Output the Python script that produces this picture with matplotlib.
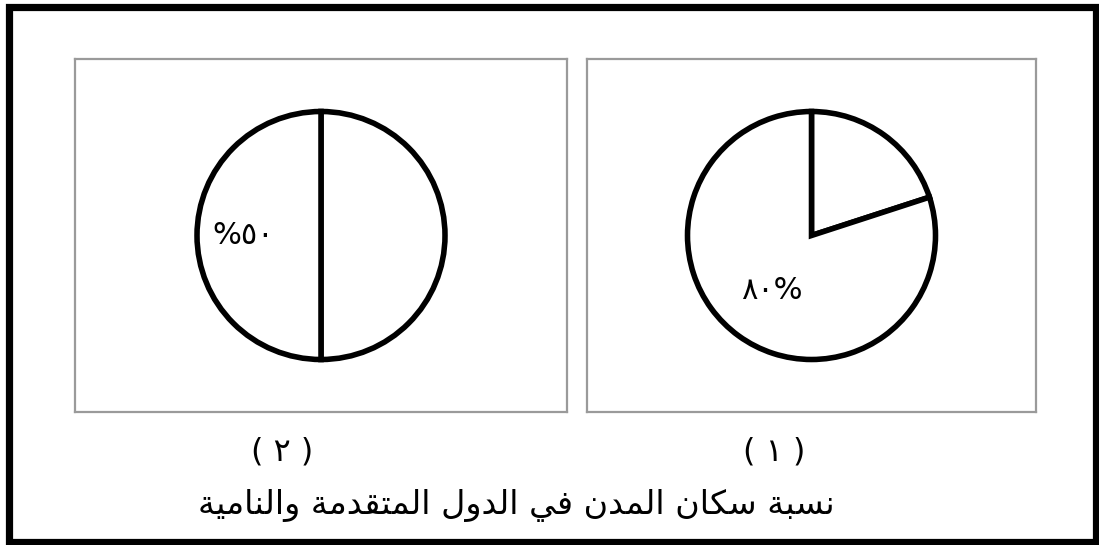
import matplotlib
matplotlib.use("Agg")
import matplotlib.pyplot as plt
from matplotlib.patches import Rectangle

plt.rcParams['font.family'] = ['DejaVu Sans']

# chart data
left_values = [50, 50]
left_labels = ['', '%٥٠']
right_values = [20, 80]
right_labels = ['', '٨٠%']
panel_titles = ['( ٢ )', '( ١ )']
title = 'نسبة سكان المدن في الدول المتقدمة والنامية'

# Arabic presentation forms: (isolated, final, initial, medial)
FORMS = {
    'ا': ('\uFE8D', '\uFE8E', None, None),
    'ب': ('\uFE8F', '\uFE90', '\uFE91', '\uFE92'),
    'ة': ('\uFE93', '\uFE94', None, None),
    'ت': ('\uFE95', '\uFE96', '\uFE97', '\uFE98'),
    'د': ('\uFEA9', '\uFEAA', None, None),
    'س': ('\uFEB1', '\uFEB2', '\uFEB3', '\uFEB4'),
    'ف': ('\uFED1', '\uFED2', '\uFED3', '\uFED4'),
    'ق': ('\uFED5', '\uFED6', '\uFED7', '\uFED8'),
    'ك': ('\uFED9', '\uFEDA', '\uFEDB', '\uFEDC'),
    'ل': ('\uFEDD', '\uFEDE', '\uFEDF', '\uFEE0'),
    'م': ('\uFEE1', '\uFEE2', '\uFEE3', '\uFEE4'),
    'ن': ('\uFEE5', '\uFEE6', '\uFEE7', '\uFEE8'),
    'و': ('\uFEED', '\uFEEE', None, None),
    'ي': ('\uFEF1', '\uFEF2', '\uFEF3', '\uFEF4'),
}


def shape(text):
    # join letters and flip to visual (left-to-right) order
    out = []
    for i, ch in enumerate(text):
        if ch not in FORMS:
            out.append(ch)
            continue
        prev = text[i - 1] if i > 0 else ''
        nxt = text[i + 1] if i + 1 < len(text) else ''
        join_prev = prev in FORMS and FORMS[prev][2] is not None
        join_next = nxt in FORMS and FORMS[ch][2] is not None
        iso, fin, ini, med = FORMS[ch]
        if join_prev and join_next:
            out.append(med)
        elif join_prev:
            out.append(fin)
        elif join_next:
            out.append(ini)
        else:
            out.append(iso)
    return ''.join(out)[::-1]


W, H = 1099, 545
fig = plt.figure(figsize=(W / 100, H / 100), dpi=100)


def draw_pie(box, values, labels, dist, r_px=124):
    x0, y0, x1, y1 = box
    ax = fig.add_axes([x0 / W, 1 - y1 / H, (x1 - x0) / W, (y1 - y0) / H])
    ax.pie(values, labels=labels, startangle=90, counterclock=False,
           labeldistance=dist,
           wedgeprops=dict(facecolor='white', edgecolor='black', linewidth=4),
           textprops=dict(fontsize=22, ha='center', va='center'))
    w = (x1 - x0) / r_px / 2
    h = (y1 - y0) / r_px / 2
    ax.set_xlim(-w, w)
    ax.set_ylim(-h, h)
    ax.set_aspect('equal', adjustable='datalim')
    ax.set_frame_on(True)
    for s in ax.spines.values():
        s.set_color('#9a9a9a')
        s.set_linewidth(1.6)
    ax.set_xticks([])
    ax.set_yticks([])
    return ax


ax_l = draw_pie((75, 59, 567, 412), left_values, left_labels, 0.63)
ax_r = draw_pie((587, 59, 1036, 412), right_values, right_labels, 0.55)

fig.text(282 / W, 1 - 452 / H, panel_titles[0], fontsize=23, ha='center', va='center')
fig.text(774 / W, 1 - 452 / H, panel_titles[1], fontsize=23, ha='center', va='center')
fig.text(516 / W, 1 - 505 / H, shape(title), fontsize=24, ha='center', va='center')

fig.patches.append(Rectangle((9 / W, 1 - 542 / H), 1087 / W, 535 / H,
                             transform=fig.transFigure, fill=False,
                             edgecolor='black', linewidth=5.2))

fig.savefig('out.png', dpi=100)
